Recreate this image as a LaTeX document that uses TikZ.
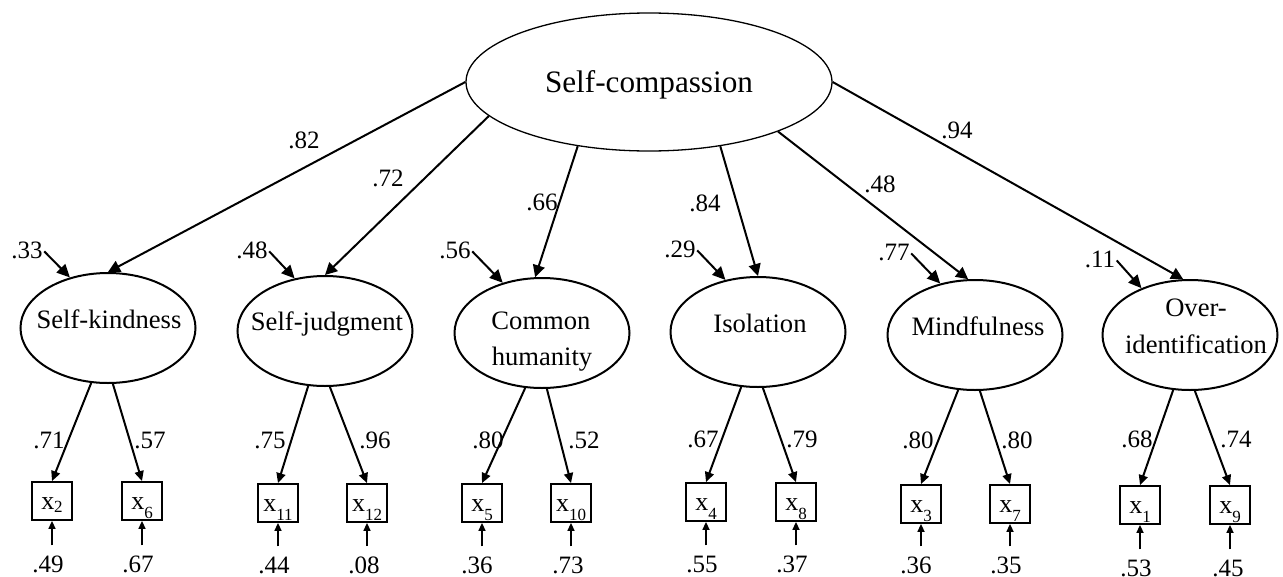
\documentclass[tikz,border=0pt]{standalone}
\usepackage{fontspec}
\setmainfont{Liberation Serif}
\usetikzlibrary{arrows.meta,shapes.geometric}
% item label: "x" with a lowered subscript
\newcommand{\itm}[2]{x\raisebox{#1}{\fontsize{17}{17}\selectfont #2}}
\begin{document}
\begin{tikzpicture}[x=1pt,y=-1pt,
  genfac/.style={ellipse, draw, line width=1.3pt, minimum width=366pt, minimum height=138pt, inner sep=0pt},
  subfac/.style={ellipse, draw, line width=2pt, minimum width=175pt, minimum height=110pt, inner sep=0pt},
  itembox/.style={draw, line width=1.8pt, minimum width=40pt, minimum height=38pt, inner sep=0pt,
    font=\fontsize{26}{26}\selectfont, text height=16pt, text depth=0pt},
  factxt/.style={font=\fontsize{26.6}{30}\selectfont, inner sep=0pt, anchor=base},
  numlbl/.style={font=\fontsize{25}{30}\selectfont, inner sep=0pt, anchor=base},
  patharr/.style={line width=2pt, -{Triangle[length=12pt,width=12pt]}},
  loadarr/.style={line width=2pt, -{Triangle[length=10pt,width=9pt]}},
  resarr/.style={line width=2pt, shorten <=2pt, -{Triangle[length=13pt,width=12pt]}},
  errarr/.style={line width=1.6pt, shorten <=10pt, -{Triangle[length=8pt,width=7pt]}}]
\useasboundingbox (0,0) rectangle (1283,576);

% general factor
\node[genfac] (sc) at (649,82) {};
\node[factxt, font=\fontsize{31.2}{36}\selectfont] (sc-t) at (649,92) {Self-compassion};

% first-order factors
\node[subfac] (sk) at (108,328) {};
\node[subfac] (sj) at (325,331) {};
\node[subfac] (ch) at (542,333) {};
\node[subfac] (is) at (758,332) {};
\node[subfac] (mi) at (975,335) {};
\node[subfac] (oi) at (1190,335) {};
\node[factxt] (sk-t) at (109,328) {Self-kindness};
\node[factxt] (sj-t) at (327,330) {Self-judgment};
\node[factxt] (ch-t1) at (541,329) {Common};
\node[factxt] (ch-t2) at (542,365) {humanity};
\node[factxt] (is-t) at (760,332) {Isolation};
\node[factxt] (mi-t) at (978,335) {Mindfulness};
\node[factxt] (oi-t1) at (1196,316) {Over-};
\node[factxt] (oi-t2) at (1196,353) {identification};

% observed items
\node[itembox] (x2) at (52,501) {\itm{-3pt}{2}};
\node[itembox] (x6) at (142,501) {\itm{-9pt}{6}};
\node[itembox] (x11) at (278,503) {\itm{-9pt}{11}};
\node[itembox] (x12) at (367,503) {\itm{-9pt}{12}};
\node[itembox] (x5) at (482,503) {\itm{-9pt}{5}};
\node[itembox] (x10) at (571,503) {\itm{-9pt}{10}};
\node[itembox] (x4) at (706,502) {\itm{-9pt}{4}};
\node[itembox] (x8) at (796,502) {\itm{-9pt}{8}};
\node[itembox] (x3) at (921,504) {\itm{-9pt}{3}};
\node[itembox] (x7) at (1010,504) {\itm{-9pt}{7}};
\node[itembox] (x1) at (1140,505) {\itm{-9pt}{1}};
\node[itembox] (x9) at (1230,505) {\itm{-9pt}{9}};

% second-order loadings
\draw[patharr] (sc.180) -- (sk.north);
\draw[patharr] (sc.192) -- (sj.north);
\draw[patharr] (sc.222) -- (ch.97);
\draw[patharr] (sc.318) -- (is.north);
\draw[patharr] (sc.339) -- (mi.97);
\draw[patharr] (sc.0) -- (oi.97);
\node[numlbl] (p-sk) at (304,148) {.82};
\node[numlbl] (p-sj) at (388,186) {.72};
\node[numlbl] (p-ch) at (542,210) {.66};
\node[numlbl] (p-is) at (705,211) {.84};
\node[numlbl] (p-mi) at (880,192) {.48};
\node[numlbl] (p-oi) at (957,138) {.94};

% factor disturbances
\node[numlbl] (r-sk) at (27,258) {.33};
\node[numlbl] (r-sj) at (252,258) {.48};
\node[numlbl] (r-ch) at (455,258) {.56};
\node[numlbl] (r-is) at (680,257) {.29};
\node[numlbl] (r-mi) at (894,260) {.77};
\node[numlbl] (r-oi) at (1100,267) {.11};
\draw[resarr] (r-sk.east) -- (sk.127);
\draw[resarr] (r-sj.east) -- (sj.120);
\draw[resarr] (r-ch.east) -- (ch.128);
\draw[resarr] (r-is.east) -- (is.122);
\draw[resarr] (r-mi.east) -- (mi.124);
\draw[resarr] (r-oi.east) -- (oi.136);

% item loadings
\draw[loadarr] (sk.253) -- (x2.north);
\draw[loadarr] (sk.275) -- (x6.north);
\draw[loadarr] (sj.253) -- (x11.north);
\draw[loadarr] (sj.275) -- (x12.north);
\draw[loadarr] (ch.253) -- (x5.north);
\draw[loadarr] (ch.275) -- (x10.north);
\draw[loadarr] (is.253) -- (x4.north);
\draw[loadarr] (is.275) -- (x8.north);
\draw[loadarr] (mi.253) -- (x3.north);
\draw[loadarr] (mi.275) -- (x7.north);
\draw[loadarr] (oi.253) -- (x1.north);
\draw[loadarr] (oi.275) -- (x9.north);
\node[numlbl] (l2) at (49,448) {.71};
\node[numlbl] (l6) at (150,448) {.57};
\node[numlbl] (l11) at (270,448) {.75};
\node[numlbl] (l12) at (375,448) {.96};
\node[numlbl] (l5) at (488,448) {.80};
\node[numlbl] (l10) at (584,448) {.52};
\node[numlbl] (l4) at (703,447) {.67};
\node[numlbl] (l8) at (802,447) {.79};
\node[numlbl] (l3) at (918,448) {.80};
\node[numlbl] (l7) at (1017,448) {.80};
\node[numlbl] (l1) at (1137,447) {.68};
\node[numlbl] (l9) at (1236,447) {.74};

% item errors
\node[numlbl] (e2) at (48,572) {.49};
\node[numlbl] (e6) at (138,572) {.67};
\node[numlbl] (e11) at (274,573) {.44};
\node[numlbl] (e12) at (364,573) {.08};
\node[numlbl] (e5) at (477,573) {.36};
\node[numlbl] (e10) at (568,573) {.73};
\node[numlbl] (e4) at (702,572) {.55};
\node[numlbl] (e8) at (792,572) {.37};
\node[numlbl] (e3) at (916,573) {.36};
\node[numlbl] (e7) at (1006,573) {.35};
\node[numlbl] (e1) at (1136,576) {.53};
\node[numlbl] (e9) at (1228,576) {.45};
\foreach \e/\x in {e2/x2,e6/x6,e11/x11,e12/x12,e5/x5,e10/x10,e4/x4,e8/x8,e3/x3,e7/x7,e1/x1,e9/x9}
  \draw[errarr] (\e.north -| \x) -- (\x.south);
\end{tikzpicture}
\end{document}
